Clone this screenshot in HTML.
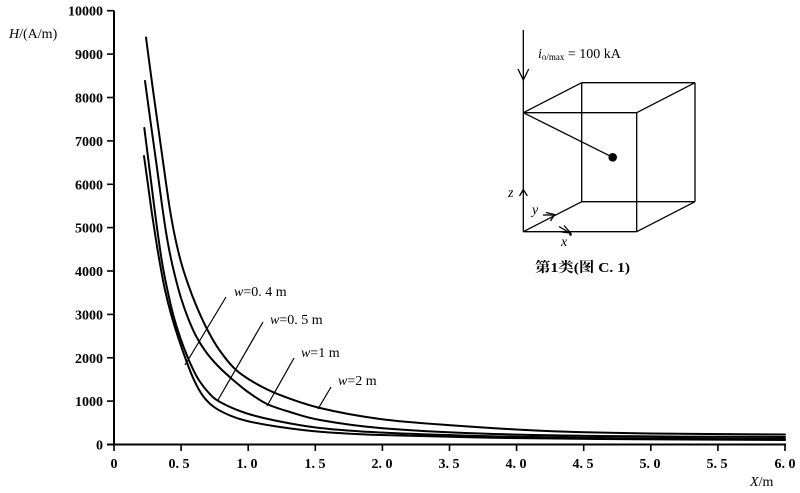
<!DOCTYPE html>
<html>
<head>
<meta charset="utf-8">
<style>
  html,body{margin:0;padding:0;background:#fff;}
  body{width:800px;height:493px;overflow:hidden;}
  svg{display:block;}
  .tk{font-family:"Liberation Serif","Noto Serif CJK SC",serif;font-weight:bold;font-size:14px;fill:#000;}
  .lb{font-family:"Liberation Serif","Noto Serif CJK SC",serif;font-size:14px;fill:#000;}
  .cj{font-family:"Liberation Serif","Noto Serif CJK SC","Noto Sans CJK SC",serif;font-size:14px;font-weight:bold;fill:#000;}
</style>
</head>
<body>
<svg id="s" width="800" height="493" viewBox="0 0 800 493" xmlns="http://www.w3.org/2000/svg">
  <rect width="800" height="493" fill="#fff"/>
  <!-- axes -->
  <g stroke="#000" stroke-width="2" fill="none">
    <line x1="114" y1="10.5" x2="114" y2="445"/>
    <line x1="107" y1="444.5" x2="786" y2="444.5"/>
  </g>
  <!-- y ticks -->
  <g stroke="#000" stroke-width="1.6">
    <line x1="107" y1="10.7" x2="114" y2="10.7"/>
    <line x1="107" y1="54.1" x2="114" y2="54.1"/>
    <line x1="107" y1="97.5" x2="114" y2="97.5"/>
    <line x1="107" y1="140.9" x2="114" y2="140.9"/>
    <line x1="107" y1="184.3" x2="114" y2="184.3"/>
    <line x1="107" y1="227.6" x2="114" y2="227.6"/>
    <line x1="107" y1="271.0" x2="114" y2="271.0"/>
    <line x1="107" y1="314.4" x2="114" y2="314.4"/>
    <line x1="107" y1="357.8" x2="114" y2="357.8"/>
    <line x1="107" y1="401.1" x2="114" y2="401.1"/>
  </g>
  <g class="tk" text-anchor="end">
    <text x="103" y="15.7">10000</text>
    <text x="103" y="59.1">9000</text>
    <text x="103" y="102.5">8000</text>
    <text x="103" y="145.9">7000</text>
    <text x="103" y="189.3">6000</text>
    <text x="103" y="232.6">5000</text>
    <text x="103" y="276.0">4000</text>
    <text x="103" y="319.4">3000</text>
    <text x="103" y="362.8">2000</text>
    <text x="103" y="406.1">1000</text>
    <text x="103" y="449.5">0</text>
  </g>
  <!-- x ticks -->
  <g stroke="#000" stroke-width="1.6">
    <line x1="114" y1="444" x2="114" y2="451"/>
    <line x1="181.1" y1="444" x2="181.1" y2="451"/>
    <line x1="248.2" y1="444" x2="248.2" y2="451"/>
    <line x1="315.3" y1="444" x2="315.3" y2="451"/>
    <line x1="382.4" y1="444" x2="382.4" y2="451"/>
    <line x1="449.5" y1="444" x2="449.5" y2="451"/>
    <line x1="516.6" y1="444" x2="516.6" y2="451"/>
    <line x1="583.7" y1="444" x2="583.7" y2="451"/>
    <line x1="650.8" y1="444" x2="650.8" y2="451"/>
    <line x1="717.9" y1="444" x2="717.9" y2="451"/>
    <line x1="785" y1="444" x2="785" y2="451"/>
  </g>
  <g class="tk" text-anchor="middle" xml:space="preserve">
    <text x="114" y="468">0</text>
    <text x="179" y="468">0. 5</text>
    <text x="247" y="468">1. 0</text>
    <text x="315" y="468">1. 5</text>
    <text x="382" y="468">2. 0</text>
    <text x="449" y="468">3. 5</text>
    <text x="516" y="468">4. 0</text>
    <text x="583" y="468">4. 5</text>
    <text x="650" y="468">5. 0</text>
    <text x="717" y="468">5. 5</text>
    <text x="785" y="468">6. 0</text>
  </g>
  <!-- axis titles -->
  <text class="lb" x="9" y="38"><tspan font-style="italic">H</tspan>/(A/m)</text>
  <text class="lb" x="750" y="486"><tspan font-style="italic">X</tspan>/m</text>

  <!-- curves -->
  <g id="curves" stroke="#000" stroke-width="2" fill="none" stroke-linejoin="round" stroke-linecap="round"></g>

  <!-- leader lines -->
  <g stroke="#000" stroke-width="1.2">
    <line x1="226" y1="297" x2="185" y2="365"/>
    <line x1="263" y1="322" x2="218" y2="400"/>
    <line x1="294" y1="358" x2="267" y2="406"/>
    <line x1="331" y1="387" x2="318" y2="409"/>
  </g>
  <g class="lb" font-size="13" xml:space="preserve">
    <text x="234" y="296"><tspan font-style="italic">w</tspan>=0. 4 m</text>
    <text x="270" y="324"><tspan font-style="italic">w</tspan>=0. 5 m</text>
    <text x="301" y="357"><tspan font-style="italic">w</tspan>=1 m</text>
    <text x="338" y="385"><tspan font-style="italic">w</tspan>=2 m</text>
  </g>

  <!-- inset figure -->
  <g stroke="#000" stroke-width="1.3" fill="none">
    <line x1="523.3" y1="30" x2="523.3" y2="231.7"/>
    <polyline points="518,69 523.3,80 528.7,69"/>
    <!-- front face -->
    <line x1="523.3" y1="112.7" x2="636.7" y2="112.7"/>
    <line x1="636.7" y1="112.7" x2="636.7" y2="231.7"/>
    <line x1="523.3" y1="231.7" x2="636.7" y2="231.7"/>
    <!-- back face -->
    <line x1="581.7" y1="82.7" x2="695" y2="82.7"/>
    <line x1="695" y1="82.7" x2="695" y2="201.7"/>
    <line x1="581.7" y1="82.7" x2="581.7" y2="201.7"/>
    <line x1="581.7" y1="201.7" x2="695" y2="201.7"/>
    <!-- connecting edges -->
    <line x1="523.3" y1="112.7" x2="581.7" y2="82.7"/>
    <line x1="636.7" y1="112.7" x2="695" y2="82.7"/>
    <line x1="636.7" y1="231.7" x2="695" y2="201.7"/>
    <line x1="523.3" y1="231.7" x2="581.7" y2="201.7"/>
    <!-- to point -->
    <line x1="523.3" y1="112.7" x2="612.7" y2="157.3"/>
    <!-- z arrow -->
    <polyline points="519.5,196 523.3,189.5 527.3,196"/>
    <!-- y arrow -->
    <line x1="543" y1="215" x2="554" y2="215"/>
    <polyline points="546,212.5 554.5,214.5 550.5,221"/>
    <!-- x arrow -->
    <line x1="559" y1="226.5" x2="570" y2="233"/>
    <polyline points="564,225.5 570.5,233 561.5,232"/>
  </g>
  <circle cx="612.7" cy="157.3" r="4.3" fill="#000"/>
  <circle cx="570.5" cy="234.5" r="1.3" fill="#000"/>
  <text class="lb" x="508" y="197" font-style="italic" font-size="12">z</text>
  <text class="lb" x="532" y="214" font-style="italic" font-size="12">y</text>
  <text class="lb" x="561" y="246" font-style="italic" font-size="12">x</text>
  <text class="lb" x="538" y="58"><tspan font-style="italic">i</tspan><tspan font-size="9" dy="2">o/max</tspan><tspan dy="-2"> = 100 kA</tspan></text>
  <text class="cj" x="535" y="272" textLength="95" lengthAdjust="spacingAndGlyphs">第1类(图 C. 1)</text>
</svg>
<script>
(function(){
  var curves = [
    [[146,37.5],[153,90],[160,140],[166,183],[170,210],[175,237],[181,262],[188,284],[196,305],[206,327],[218,348],[235,369],[255,383],[280,395],[320,408],[380,419],[447,425],[547,431],[650,433.5],[785,434.5]],
    [[145,81],[151,125],[157,168],[162,205],[166,232],[170,254],[175,276],[181,298],[188,318],[196,336],[206,352],[218,366],[232,379],[248,392],[267,404],[290,412],[320,420],[380,428],[480,433.5],[600,436],[785,437]],
    [[144.3,128],[149,165],[154,205],[158,235],[162,262],[167,288],[173,314],[180,337],[188,358],[197,377],[208,392],[220,402],[247,413.5],[280,421.5],[320,428],[380,432.5],[480,436],[600,438],[785,439]],
    [[144,156],[148,185],[152,214],[156,240],[160,264],[165,290],[171,314],[178,337],[186,360],[194,380],[203,396],[214,407],[230,415.5],[247,421],[280,427],[320,431.7],[380,435],[480,437.5],[600,439],[785,440]]
  ];
  var g = document.getElementById('curves');
  curves.forEach(function(p){
    var d = 'M' + p[0][0] + ',' + p[0][1];
    for (var i = 0; i < p.length - 1; i++) {
      var p0 = p[i-1] || p[i], p1 = p[i], p2 = p[i+1], p3 = p[i+2] || p[i+1];
      var c1x = p1[0] + (p2[0]-p0[0])/6, c1y = p1[1] + (p2[1]-p0[1])/6;
      var c2x = p2[0] - (p3[0]-p1[0])/6, c2y = p2[1] - (p3[1]-p1[1])/6;
      d += ' C' + c1x.toFixed(2) + ',' + c1y.toFixed(2) + ' ' + c2x.toFixed(2) + ',' + c2y.toFixed(2) + ' ' + p2[0] + ',' + p2[1];
    }
    var path = document.createElementNS('http://www.w3.org/2000/svg','path');
    path.setAttribute('d', d);
    g.appendChild(path);
  });
})();
</script>
</body>
</html>
